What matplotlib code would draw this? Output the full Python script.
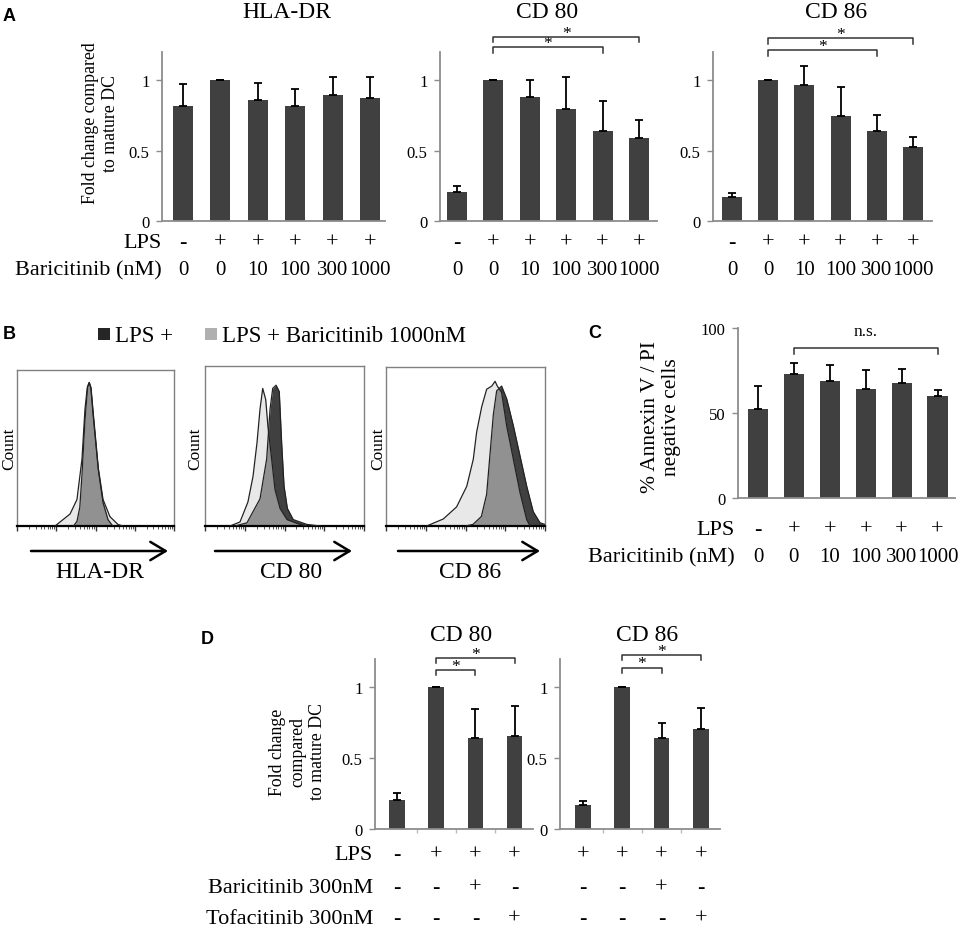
import numpy as np
import matplotlib
matplotlib.use('Agg')
import matplotlib.pyplot as plt
from matplotlib import transforms
from matplotlib.patches import Rectangle

plt.rcParams['font.family'] = ['Liberation Serif', 'DejaVu Serif']
SANS = ['Liberation Sans', 'DejaVu Sans']

W, H = 965, 928

# ---------------- data ----------------
# Panel A (fold change compared to mature DC)
a_dose = ['0', '0', '10', '100', '300', '1000']
a_lps = ['-', '+', '+', '+', '+', '+']
hla_mean = [0.82, 1.00, 0.86, 0.82, 0.895, 0.87]
hla_err = [0.15, 0.0, 0.12, 0.12, 0.125, 0.15]
cd80_mean = [0.205, 1.00, 0.88, 0.795, 0.636, 0.59]
cd80_err = [0.04, 0.0, 0.12, 0.225, 0.213, 0.126]
cd86_mean = [0.168, 1.00, 0.967, 0.747, 0.636, 0.527]
cd86_err = [0.028, 0.0, 0.133, 0.206, 0.114, 0.071]
fold_ticks = [0, 0.5, 1]
fold_ticklabels = ['0', '0.5', '1']

# Panel C (% Annexin V / PI negative cells)
c_mean = [52.4, 72.9, 68.6, 63.9, 67.5, 60.2]
c_err = [13.6, 6.5, 9.8, 11.4, 8.4, 3.3]
c_ticks = [0, 50, 100]
c_ticklabels = ['0', '50', '100']

# Panel D
d80_mean = [0.206, 1.00, 0.639, 0.657]
d80_err = [0.047, 0.0, 0.206, 0.211]
d86_mean = [0.171, 1.00, 0.639, 0.709]
d86_err = [0.029, 0.0, 0.112, 0.148]
d80_lps = ['-', '+', '+', '+']
d86_lps = ['+', '+', '+', '+']
d_bari = ['-', '-', '+', '-']
d_tofa = ['-', '-', '-', '+']

# Panel B histograms (x: % of plot width, y: fraction of box height)
hla_light_x = [24.2, 33.8, 38.2, 41.4, 43.3, 44.8, 46.0, 47.2, 48.6, 51.8, 54.8, 59.2, 64.3, 67.5]
hla_light_y = [0.0, 0.077, 0.17, 0.43, 0.75, 0.89, 0.92, 0.88, 0.72, 0.37, 0.17, 0.06, 0.01, 0.0]
hla_dark_x = [36.0, 38.2, 40.0, 41.4, 43.3, 45.0, 46.0, 47.0, 48.6, 51.8, 54.8, 58.0, 61.0]
hla_dark_y = [0.0, 0.03, 0.12, 0.33, 0.68, 0.89, 0.92, 0.89, 0.70, 0.36, 0.15, 0.04, 0.0]
cd80_light_x = [15.7, 22.0, 27.0, 30.2, 32.7, 34.6, 36.3, 38.2, 39.6, 41.9, 44.0, 47.2, 51.6, 59.7, 64.2]
cd80_light_y = [0.0, 0.025, 0.15, 0.31, 0.52, 0.73, 0.86, 0.79, 0.62, 0.42, 0.23, 0.11, 0.04, 0.01, 0.0]
cd80_dark_x = [18.9, 26.4, 34.6, 38.8, 40.9, 42.6, 44.7, 46.7, 48.2, 49.7, 51.8, 55.5, 64.0, 72.3]
cd80_dark_y = [0.0, 0.02, 0.17, 0.42, 0.73, 0.86, 0.88, 0.84, 0.52, 0.25, 0.11, 0.04, 0.01, 0.0]
cd86_light_x = [25.6, 36.0, 44.4, 50.8, 54.9, 57.0, 60.2, 63.3, 66.5, 68.6, 70.0, 72.7, 75.9, 80.1, 84.3, 88.5, 90.6]
cd86_light_y = [0.0, 0.044, 0.12, 0.25, 0.42, 0.59, 0.75, 0.86, 0.88, 0.91, 0.88, 0.84, 0.63, 0.42, 0.21, 0.04, 0.0]
cd86_dark_x = [50.0, 54.7, 60.0, 63.3, 65.4, 67.5, 69.6, 72.7, 75.9, 80.1, 84.3, 88.5, 92.6, 96.9, 100.0]
cd86_dark_y = [0.0, 0.01, 0.06, 0.20, 0.45, 0.70, 0.85, 0.88, 0.80, 0.63, 0.44, 0.25, 0.09, 0.02, 0.01]

# ---------------- figure ----------------
fig = plt.figure(figsize=(W / 100, H / 100), dpi=100)
ov = fig.add_axes([0, 0, 1, 1])
ov.set_xlim(0, W)
ov.set_ylim(H, 0)
ov.axis('off')

BAR = '#404040'
SPINE = '#8c8c8c'
ROWFS = 16
DOSEFS = 15


def px_axes(l, r, t, b):
    ax = fig.add_axes([l / W, 1 - b / H, (r - l) / W, (b - t) / H])
    ax.patch.set_alpha(0)
    return ax


def bar_panel(l, r, t, b, c0, step, mean, err, width, ylim, ticks, ticklabels, catticks=False):
    ax = px_axes(l, r, t, b)
    x = np.arange(len(mean))
    ax.bar(x, mean, width=width, color=BAR, zorder=2)
    ax.errorbar(x, mean, yerr=[np.zeros(len(err)), err], fmt='none', ecolor='black',
                elinewidth=1.3, capsize=3.2, capthick=1.3, zorder=3)
    ax.set_xlim((l - c0) / step, (r - c0) / step)
    ax.set_ylim(*ylim)
    for s in ['top', 'right']:
        ax.spines[s].set_visible(False)
    for s in ['left', 'bottom']:
        ax.spines[s].set_color(SPINE)
        ax.spines[s].set_linewidth(1.3)
    ax.set_yticks(ticks)
    ax.set_yticklabels(ticklabels, fontsize=12)
    ax.tick_params(axis='y', direction='out', length=4, color=SPINE, width=1, pad=5)
    if catticks:
        ax.set_xticks(np.arange(len(mean) - 1) + 0.5)
        ax.set_xticklabels([])
        ax.tick_params(axis='x', direction='out', length=3, color='#bbbbbb', width=1)
    else:
        ax.set_xticks([])
    return ax


def row_text(ax, labels, ypx, fs=ROWFS):
    tr = transforms.blended_transform_factory(ax.transData, fig.transFigure)
    for i, lab in enumerate(labels):
        ax.text(i, 1 - ypx / H, lab, transform=tr, ha='center', va='baseline',
                fontsize=fs, clip_on=False)


def bracket(ax, x1, x2, y, ydrop, label, ty, fs=12.5):
    ax.plot([x1, x1, x2, x2], [ydrop, y, y, ydrop], color='#333333', lw=1.1,
            clip_on=False, zorder=4)
    ax.text((x1 + x2) / 2, ty, label, ha='center', va='baseline', fontsize=fs,
            clip_on=False)


# ---------- Panel A ----------
axA1 = bar_panel(162, 385, 53, 222, 183, 37.4, hla_mean, hla_err, 0.54, (0, 1.2),
                 fold_ticks, fold_ticklabels)
axA2 = bar_panel(440, 657, 53, 222, 457, 36.4, cd80_mean, cd80_err, 0.55, (0, 1.2),
                 fold_ticks, fold_ticklabels)
axA3 = bar_panel(713, 932, 53, 222, 732, 36.2, cd86_mean, cd86_err, 0.55, (0, 1.2),
                 fold_ticks, fold_ticklabels)
for ax in (axA1, axA2, axA3):
    row_text(ax, a_lps, 248)
    row_text(ax, a_dose, 275, fs=DOSEFS)

bracket(axA2, 1, 5, 1.305, 1.27, '*', 1.305)
bracket(axA2, 1, 4, 1.234, 1.19, '*', 1.234)
bracket(axA3, 1, 5, 1.298, 1.255, '*', 1.298)
bracket(axA3, 1, 4, 1.213, 1.17, '*', 1.213)

ov.text(9, 21, 'A', fontsize=13, fontweight='bold', family=SANS, ha='center', va='baseline')
ov.text(287, 18, 'HLA-DR', fontsize=17, ha='center', va='baseline')
ov.text(547, 18, 'CD 80', fontsize=17, ha='center', va='baseline')
ov.text(836, 18, 'CD 86', fontsize=17, ha='center', va='baseline')
ov.text(100.5, 123.5, 'Fold change compared\nto mature DC', fontsize=12.8, rotation=90,
        ha='center', va='center', multialignment='center', linespacing=1.3)
ov.text(162, 248, 'LPS', fontsize=ROWFS, ha='right', va='baseline')
ov.text(162, 275, 'Baricitinib (nM)', fontsize=ROWFS, ha='right', va='baseline')

# ---------- Panel B ----------
def hist_panel(l, r, t, b, lx, ly, dx, dy):
    ax = px_axes(l, r, t, b)
    ax.fill_between(dx, dy, color='#404040', lw=0, zorder=1)
    ax.fill_between(lx, ly, color='#d6d6d6', alpha=0.54, lw=0, zorder=2)
    ax.plot(dx, dy, color='#222222', lw=0.9, zorder=3)
    ax.plot(lx, ly, color='#222222', lw=0.9, zorder=3)
    ax.set_xlim(0, 100)
    ax.set_ylim(0, 1)
    for s in ['top', 'right', 'left']:
        ax.spines[s].set_color('#808080')
        ax.spines[s].set_linewidth(1.0)
    ax.spines['bottom'].set_color('black')
    ax.spines['bottom'].set_linewidth(1.6)
    ax.set_yticks([])
    dec = 25.0
    major = [d * dec for d in range(5)]
    minor = [d * dec + np.log10(k) * dec for d in range(4) for k in range(2, 10)]
    ax.set_xticks(major)
    ax.set_xticks(minor, minor=True)
    ax.set_xticklabels([])
    ax.tick_params(axis='x', which='major', direction='out', length=3.5, width=1, color='#333333')
    ax.tick_params(axis='x', which='minor', direction='out', length=2, width=0.7, color='#555555')
    return ax


hist_panel(17, 174, 371, 527, hla_light_x, hla_light_y, hla_dark_x, hla_dark_y)
hist_panel(205, 364, 367, 527, cd80_light_x, cd80_light_y, cd80_dark_x, cd80_dark_y)
hist_panel(386, 545, 368, 527, cd86_light_x, cd86_light_y, cd86_dark_x, cd86_dark_y)

ov.text(9, 339, 'B', fontsize=13, fontweight='bold', family=SANS, ha='center', va='baseline')
ov.add_patch(Rectangle((98, 329), 12, 12, color='#262626', lw=0))
ov.text(115, 342, 'LPS +', fontsize=16.5, ha='left', va='baseline')
ov.add_patch(Rectangle((205, 329), 12, 12, color='#b0b0b0', lw=0))
ov.text(222, 342, 'LPS + Baricitinib 1000nM', fontsize=16.5, ha='left', va='baseline')

for cx in (9, 195, 378):
    ov.text(cx, 449, 'Count', fontsize=12.5, rotation=90, ha='center', va='center')

for (x1, x2, lx, lab) in [(31, 168, 100, 'HLA-DR'), (215, 352, 291, 'CD 80'), (398, 540, 470, 'CD 86')]:
    ov.annotate('', xy=(x2, 552), xytext=(x1, 552),
                arrowprops=dict(arrowstyle='->,head_length=0.5,head_width=0.3', lw=1.8,
                                color='black', shrinkA=0, shrinkB=0, mutation_scale=22))
    ov.text(lx, 578, lab, fontsize=17, ha='center', va='baseline')

# ---------- Panel C ----------
axC = bar_panel(738, 955, 329, 499, 758, 35.9, c_mean, c_err, 0.56, (0, 100),
                c_ticks, c_ticklabels)
row_text(axC, a_lps, 535)
row_text(axC, a_dose, 562, fs=DOSEFS)
bracket(axC, 1, 5, 88.2, 84.7, 'n.s.', 95.9, fs=12.5)
ov.text(595, 338, 'C', fontsize=13, fontweight='bold', family=SANS, ha='center', va='baseline')
ov.text(661, 417, '% Annexin V / PI\nnegative cells', fontsize=15.5, rotation=90,
        ha='center', va='center', multialignment='center', linespacing=1.2)
ov.text(735, 535, 'LPS', fontsize=ROWFS, ha='right', va='baseline')
ov.text(735, 562, 'Baricitinib (nM)', fontsize=ROWFS, ha='right', va='baseline')

# ---------- Panel D ----------
axD1 = bar_panel(375, 533, 660, 830, 397, 39.2, d80_mean, d80_err, 0.4, (0, 1.2),
                 fold_ticks, fold_ticklabels, catticks=True)
axD2 = bar_panel(560, 720, 660, 830, 583, 39.3, d86_mean, d86_err, 0.4, (0, 1.2),
                 fold_ticks, fold_ticklabels, catticks=True)
row_text(axD1, d80_lps, 860)
row_text(axD1, d_bari, 893)
row_text(axD1, d_tofa, 924)
row_text(axD2, d86_lps, 860)
row_text(axD2, d_bari, 893)
row_text(axD2, d_tofa, 924)

bracket(axD1, 1, 3, 1.204, 1.169, '*', 1.204)
bracket(axD1, 1, 2, 1.12, 1.085, '*', 1.12)
bracket(axD2, 1, 3, 1.225, 1.19, '*', 1.225)
bracket(axD2, 1, 2, 1.14, 1.10, '*', 1.14)

ov.text(207, 644, 'D', fontsize=13, fontweight='bold', family=SANS, ha='center', va='baseline')
ov.text(461, 641, 'CD 80', fontsize=17, ha='center', va='baseline')
ov.text(647, 641, 'CD 86', fontsize=17, ha='center', va='baseline')
ov.text(297.5, 752, 'Fold change\ncompared\nto mature DC', fontsize=12.8, rotation=90,
        ha='center', va='center', multialignment='center', linespacing=1.25)
ov.text(373, 860, 'LPS', fontsize=ROWFS, ha='right', va='baseline')
ov.text(373, 893, 'Baricitinib 300nM', fontsize=ROWFS, ha='right', va='baseline')
ov.text(373, 924, 'Tofacitinib 300nM', fontsize=ROWFS, ha='right', va='baseline')

fig.savefig('out.png', dpi=100)
